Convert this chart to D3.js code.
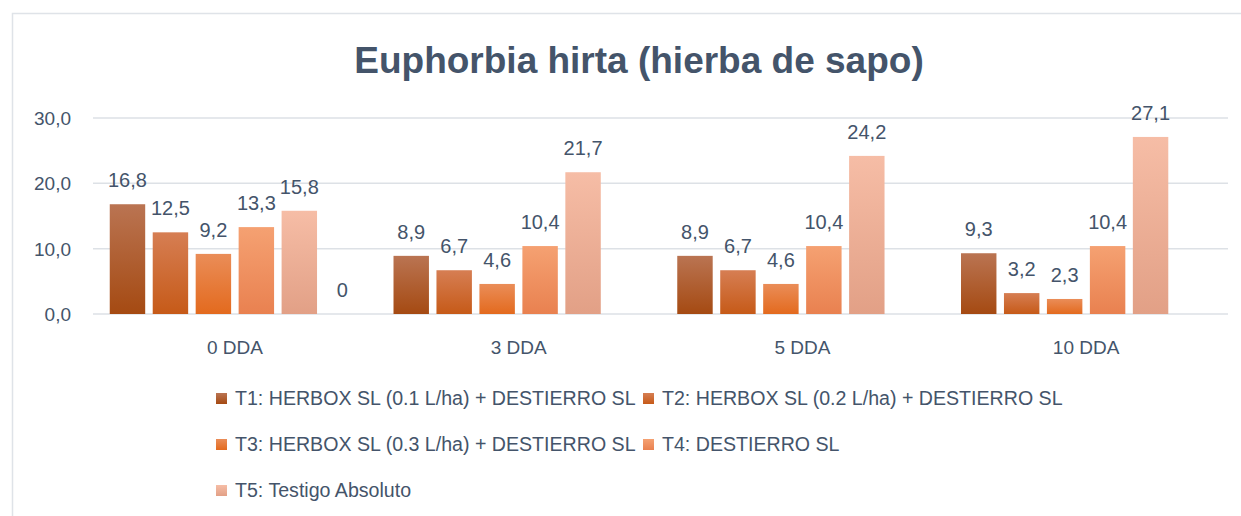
<!DOCTYPE html>
<html>
<head>
<meta charset="utf-8">
<script src="https://cdn.jsdelivr.net/npm/d3@7"></script>
<style>
    body { margin: 0; background: #fff; }
    svg { display: block; font-family: "Liberation Sans", Arial, sans-serif; }
    .lbl { fill: #44546a; }
</style>
</head>
<body>
<svg class="chart"></svg>
<script>
// data
const categories = ['0 DDA', '3 DDA', '5 DDA', '10 DDA']
const seriesNames = [
    'T1: HERBOX SL (0.1 L/ha) + DESTIERRO SL',
    'T2: HERBOX SL (0.2 L/ha) + DESTIERRO SL',
    'T3: HERBOX SL (0.3 L/ha) + DESTIERRO SL',
    'T4: DESTIERRO SL',
    'T5: Testigo Absoluto'
]
const t1 = [16.8, 8.9, 8.9, 9.3]
const t2 = [12.5, 6.7, 6.7, 3.2]
const t3 = [9.2, 4.6, 4.6, 2.3]
const t4 = [13.3, 10.4, 10.4, 10.4]
const t5 = [15.8, 21.7, 24.2, 27.1]
// sixth series in the sheet, no legend entry, only a value at 0 DDA
const extra = [0, null, null, null]
const yTicks = [0, 10, 20, 30]

const seriesValues = [t1, t2, t3, t4, t5, extra]
const gradStops = [
    ['#ba7452', '#a54a12'],
    ['#d67e53', '#c65a18'],
    ['#ea8d58', '#e36a1e'],
    ['#f5a172', '#e98150'],
    ['#f6bda6', '#e2a086'],
    ['#cccccc', '#cccccc']
]

const width = 1241
const height = 516
const margin = { left: 93, right: 13, top: 118, bottom: 202 }

const svg = d3.select('.chart')
    .attr('width', width)
    .attr('height', height)

// gradients, top to bottom on each bar
const defs = svg.append('defs')
gradStops.forEach((c, i) => {
    const g = defs.append('linearGradient')
        .attr('id', 'grad' + i)
        .attr('x1', 0).attr('y1', 0)
        .attr('x2', 0).attr('y2', 1)
    g.append('stop').attr('offset', '0%').attr('stop-color', c[0])
    g.append('stop').attr('offset', '100%').attr('stop-color', c[1])
})

// outer chart frame
svg.append('rect')
    .attr('x', 12.5).attr('y', 13.5)
    .attr('width', 1260).attr('height', 540)
    .attr('fill', 'none')
    .attr('stroke', '#dfe3e8')
    .attr('stroke-width', 1.5)

// title
svg.append('text')
    .attr('class', 'lbl')
    .attr('x', 639).attr('y', 73)
    .attr('text-anchor', 'middle')
    .attr('font-size', 37)
    .attr('font-weight', 'bold')
    .text('Euphorbia hirta (hierba de sapo)')

const x0 = d3.scaleBand()
    .domain(categories)
    .range([margin.left, width - margin.right])
    .padding(0)

const x1 = d3.scaleBand()
    .domain(d3.range(seriesValues.length))
    .range([0, x0.bandwidth()])
    .paddingInner(0.175)
    .paddingOuter(0.39)

const y = d3.scaleLinear()
    .domain([0, 30])
    .range([height - margin.bottom, margin.top])

const fmt = v => d3.format('.1f')(v).replace('.', ',')

// gridlines
svg.append('g')
    .selectAll('line')
    .data(yTicks)
    .enter()
    .append('line')
    .attr('x1', margin.left)
    .attr('x2', width - margin.right)
    .attr('y1', d => y(d))
    .attr('y2', d => y(d))
    .attr('stroke', '#dde1e6')
    .attr('stroke-width', 1.5)

// y tick labels
svg.append('g')
    .selectAll('text')
    .data(yTicks)
    .enter()
    .append('text')
    .attr('class', 'lbl')
    .attr('x', 71)
    .attr('y', d => y(d) + 7)
    .attr('text-anchor', 'end')
    .attr('font-size', 19)
    .text(fmt)

// category labels
svg.append('g')
    .selectAll('text')
    .data(categories)
    .enter()
    .append('text')
    .attr('class', 'lbl')
    .attr('x', d => x0(d) + x0.bandwidth() / 2)
    .attr('y', 354)
    .attr('text-anchor', 'middle')
    .attr('font-size', 19)
    .text(d => d)

// flatten into one record per bar
const bars = []
seriesValues.forEach((vals, s) => {
    vals.forEach((v, c) => {
        if (v !== null) bars.push({ s, cat: categories[c], v })
    })
})

const barG = svg.append('g')

barG.selectAll('rect')
    .data(bars.filter(d => d.v > 0))
    .enter()
    .append('rect')
    .attr('x', d => x0(d.cat) + x1(d.s))
    .attr('width', x1.bandwidth())
    .attr('y', d => y(d.v))
    .attr('height', d => y(0) - y(d.v))
    .attr('fill', d => 'url(#grad' + d.s + ')')

// data labels (the unnamed series shows a plain "0")
barG.selectAll('text')
    .data(bars)
    .enter()
    .append('text')
    .attr('class', 'lbl')
    .attr('x', d => x0(d.cat) + x1(d.s) + x1.bandwidth() / 2)
    .attr('y', d => y(d.v) - 17)
    .attr('text-anchor', 'middle')
    .attr('font-size', 20)
    .text(d => d.s === 5 ? d3.format('d')(d.v) : fmt(d.v))

// legend: two columns, three rows
const legCols = [216, 643]
const legRows = [405, 451, 497]

const leg = svg.append('g')
    .selectAll('g')
    .data(seriesNames)
    .enter()
    .append('g')
    .attr('transform', (d, i) => `translate(${legCols[i % 2]},${legRows[Math.floor(i / 2)]})`)

leg.append('rect')
    .attr('x', 0).attr('y', -12)
    .attr('width', 11).attr('height', 11)
    .attr('fill', (d, i) => 'url(#grad' + i + ')')

leg.append('text')
    .attr('class', 'lbl')
    .attr('x', 19)
    .attr('y', 0)
    .attr('font-size', 19.6)
    .text(d => d)
</script>
</body>
</html>
